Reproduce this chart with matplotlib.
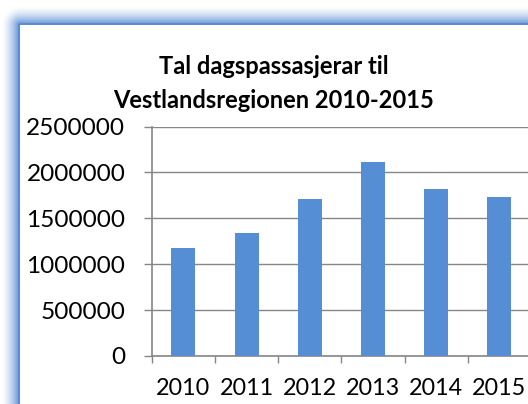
import numpy as np
import matplotlib
matplotlib.use("Agg")
import matplotlib.pyplot as plt

# data
years = ["2010", "2011", "2012", "2013", "2014", "2015"]
passengers = [1175000, 1345000, 1715000, 2115000, 1815000, 1730000]
y_ticks = [0, 500000, 1000000, 1500000, 2000000, 2500000]

plt.rcParams['font.family'] = ['Lato', 'DejaVu Sans']

W, H = 528, 404
fig = plt.figure(figsize=(W / 100, H / 100), dpi=100)

# blue glow frame at top/left (chart border)
bg = fig.add_axes([0, 0, 1, 1])
bg.set_axis_off()
yy, xx = np.mgrid[0:H, 0:W] + 0.5
dx = np.clip(20 - xx, 0, None)
dy = np.clip(25 - yy, 0, None)
d = np.hypot(dx, dy)
img = np.ones((H, W, 4))
glow = np.clip(1 - (d - 2) / 17, 0, 1) ** 1.6
glow[d <= 0] = 0
base = np.array([0.45, 0.63, 0.87])
img[..., :3] = 1 - glow[..., None] * (1 - base)
edge = (d > 0) & (d <= 2)
img[edge, :3] = [0.36, 0.55, 0.82]
bg.imshow(img, extent=[0, W, H, 0], aspect='auto', interpolation='nearest')
bg.set_xlim(0, W)
bg.set_ylim(H, 0)

# plot area (runs past the right edge, as in the cropped original)
ax = fig.add_axes([151.7 / W, (H - 356) / H, 379.3 / W, 229.5 / H])
x = np.arange(len(years))
ax.bar(x, passengers, width=0.38, color='#558ed5', zorder=3)

ax.set_xlim(-0.5, 5.5)
ax.set_ylim(0, 2500000)
ax.set_yticks(y_ticks)
ax.set_yticklabels([str(v) for v in y_ticks], fontsize=17.6)
ax.set_xticks(x)
ax.set_xticklabels(years, fontsize=16.8)
ax.set_xticks(np.arange(-0.5, 6, 1), minor=True)

grey = '#868686'
ax.yaxis.grid(True, color=grey, linewidth=1.0, zorder=0)
ax.set_axisbelow(True)
for s in ['top', 'right']:
    ax.spines[s].set_visible(False)
for s in ['left', 'bottom']:
    ax.spines[s].set_color(grey)
    ax.spines[s].set_linewidth(1.2)

ax.tick_params(axis='y', direction='out', length=6, width=1, color=grey, pad=13)
ax.tick_params(axis='x', which='major', length=0, pad=16)
ax.tick_params(axis='x', which='minor', direction='out', length=5, width=1, color=grey)

# title in two lines
fig.text(274 / W, 1 - 73.5 / H, "Tal dagspassasjerar til", ha='center', va='baseline',
         fontsize=17, fontweight='bold')
fig.text(273.5 / W, 1 - 107.7 / H, "Vestlandsregionen 2010-2015", ha='center', va='baseline',
         fontsize=17, fontweight='bold')

fig.savefig("out.png", dpi=100)
